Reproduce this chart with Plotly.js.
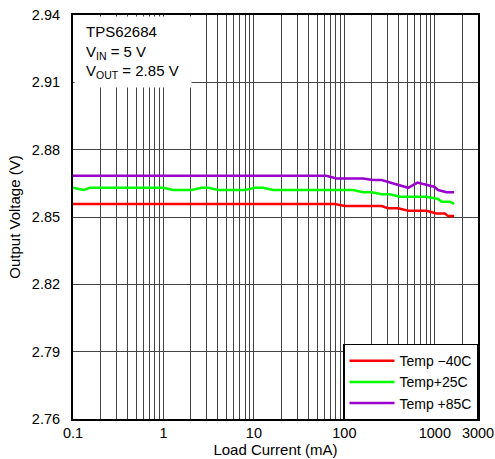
<!DOCTYPE html>
<html>
<head>
<meta charset="utf-8">
<script src="https://cdn.plot.ly/plotly-3.0.1.min.js"></script>
<style>html,body{margin:0;padding:0;background:#fff;}#chart{width:495px;height:459px;}</style>
</head>
<body>
<div id="chart"></div>
<script>
// Load current (mA) and output voltage (V) per temperature
const xM40 = [0.1, 78.5, 101, 258, 305, 393, 507, 810, 1045, 1290, 1402, 1634];
const yM40 = [2.8558, 2.8558, 2.8549, 2.8549, 2.8539, 2.8539, 2.8528, 2.8528, 2.8516, 2.8516, 2.8504, 2.8504];

const xP25 = [0.1, 0.13, 0.154, 1.0, 1.28, 2.05, 2.64, 3.13, 4.03, 7.95, 10.3, 12.6, 16.3, 125, 161, 200, 258, 318, 410, 810, 1087, 1186, 1465, 1634];
const yP25 = [2.8630, 2.8620, 2.8630, 2.8630, 2.8620, 2.8620, 2.8630, 2.8630, 2.8620, 2.8620, 2.8630, 2.8630, 2.8620, 2.8620, 2.8610, 2.8610, 2.8601, 2.8601, 2.8590, 2.8590, 2.8580, 2.8568, 2.8568, 2.8558];

const xP85 = [0.1, 63, 82, 161, 206, 258, 507, 644, 982, 1087, 1346, 1634];
const yP85 = [2.8684, 2.8684, 2.8672, 2.8672, 2.8665, 2.8665, 2.8630, 2.8653, 2.8635, 2.8620, 2.8610, 2.8610];

const seriesNames = ['Temp \u221240C', 'Temp+25C', 'Temp +85C'];
const xTickVals = [0.1, 1, 10, 100, 1000, 3000];
const xTickText = ['0.1', '1', '10', '100', '1000', '3000'];
const minorGrid = [0.2,0.3,0.4,0.5,0.6,0.7,0.8,0.9,2,3,4,5,6,7,8,9,20,30,40,50,60,70,80,90,200,300,400,500,600,700,800,900,2000];

const fam = 'Liberation Sans, Arial, sans-serif';
const tickFont = {family: fam, size: 14.5, color: '#000'};
const font = {family: fam, size: 15, color: '#000'};
const legendFont = {family: fam, size: 14, color: '#000'};
const gridColor = '#444';

const traces = [
  {x: xM40, y: yM40, name: seriesNames[0], mode: 'lines', line: {color: '#ff0000', width: 2.5}},
  {x: xP25, y: yP25, name: seriesNames[1], mode: 'lines', line: {color: '#00ff00', width: 2.5}},
  {x: xP85, y: yP85, name: seriesNames[2], mode: 'lines', line: {color: '#9900cc', width: 2.5}}
];

const layout = {
  width: 495, height: 459,
  margin: {l: 73, r: 17, t: 15, b: 40},
  paper_bgcolor: '#fff', plot_bgcolor: '#fff',
  font: font,
  showlegend: true,
  legend: {x: 1, xanchor: 'right', y: -0.004, yanchor: 'bottom', bgcolor: '#fff',
           bordercolor: '#000', borderwidth: 1.5, font: legendFont, tracegroupgap: 0, itemwidth: 45},
  xaxis: {
    type: 'log', range: [-1, Math.log10(3000)],
    tickmode: 'array', tickvals: xTickVals, ticktext: xTickText,
    ticks: '', ticklabelstandoff: 0, tickfont: tickFont,
    showgrid: true, gridcolor: gridColor, gridwidth: 1,
    minor: {tickmode: 'array', tickvals: minorGrid, showgrid: true, gridcolor: gridColor, gridwidth: 1, ticks: ''},
    showline: true, linecolor: '#000', linewidth: 2, mirror: true,
    zeroline: false,
    title: {text: 'Load Current (mA)', font: font, standoff: 4}
  },
  yaxis: {
    range: [2.76, 2.94], tick0: 2.76, dtick: 0.03, tickformat: '.2f',
    ticks: '', ticklabelstandoff: 8, tickfont: tickFont,
    showgrid: true, gridcolor: gridColor, gridwidth: 1,
    showline: true, linecolor: '#000', linewidth: 2, mirror: true,
    zeroline: false,
    title: {text: 'Output Voltage (V)', font: font, standoff: 8}
  },
  annotations: [
    {xref: 'paper', yref: 'paper', x: 0, y: 1, xanchor: 'left', yanchor: 'top',
     xshift: 1, yshift: -1, text: ' ', width: 116, height: 70, bgcolor: '#fff', showarrow: false, borderpad: 0},
    {xref: 'paper', yref: 'paper', x: 0, y: 1, xanchor: 'left', yanchor: 'top',
     xshift: 11, yshift: -6, align: 'left', showarrow: false, font: font,
     text: 'TPS62684<br>V<sub>IN</sub> = 5 V<br>V<sub>OUT</sub> = 2.85 V'}
  ]
};

Plotly.newPlot('chart', traces, layout, {displayModeBar: false, staticPlot: true});
</script>
</body>
</html>
